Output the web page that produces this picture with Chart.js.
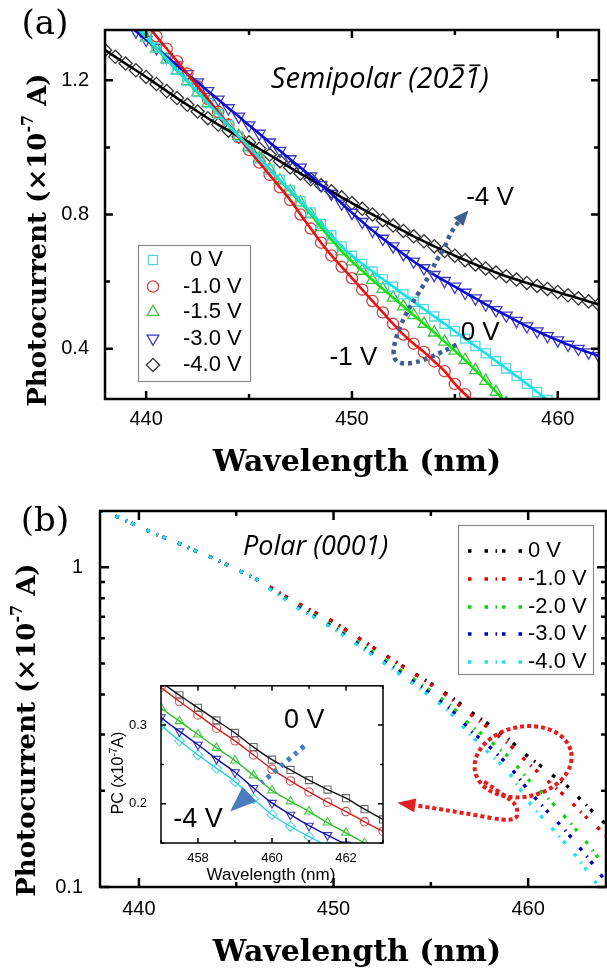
<!DOCTYPE html>
<html>
<head>
<meta charset="utf-8">
<script src="https://cdn.jsdelivr.net/npm/chart.js@4.4.1/dist/chart.umd.min.js"></script>
<style>
html, body { margin: 0; padding: 0; background: #fff; }
body { width: 607px; height: 971px; position: relative; overflow: hidden; }
canvas { position: absolute; }
#ca { left: 0; top: 0; }
#cb { left: 0; top: 490px; }
#ci { left: 101px; top: 672px; }
</style>
</head>
<body>
<canvas id="ca" width="607" height="490"></canvas>
<canvas id="cb" width="607" height="481"></canvas>
<canvas id="ci" width="290" height="215"></canvas>
<script>
// ---- panel (a): semipolar, photocurrent vs wavelength ----
const semiWl = [438, 438.5, 439, 439.5, 440, 440.5, 441, 441.5, 442, 442.5, 443, 443.5, 444, 444.5, 445, 445.5,
  446, 446.5, 447, 447.5, 448, 448.5, 449, 449.5, 450, 450.5, 451, 451.5, 452, 452.5, 453, 453.5, 454, 454.5,
  455, 455.5, 456, 456.5, 457, 457.5, 458, 458.5, 459, 459.5, 460, 460.5, 461, 461.5, 462];
const semiLabels = ['0 V', '-1.0 V', '-1.5 V', '-3.0 V', '-4.0 V'];
const semi0 = [1.46, 1.427, 1.395, 1.362, 1.330, 1.297, 1.264, 1.231, 1.198, 1.165, 1.132, 1.099, 1.066, 1.033, 1.000, 0.967,
  0.934, 0.903, 0.872, 0.840, 0.806, 0.772, 0.738, 0.705, 0.677, 0.653, 0.630, 0.607, 0.585, 0.562, 0.540, 0.518, 0.496, 0.474,
  0.452, 0.430, 0.408, 0.386, 0.363, 0.341, 0.318, 0.295, 0.271, 0.247, 0.224, null, null, null, null];
const semi1 = [null, null, 1.44, 1.405, 1.368, 1.331, 1.294, 1.257, 1.220, 1.182, 1.144, 1.106, 1.068, 1.030, 0.992, 0.955,
  0.918, 0.881, 0.843, 0.800, 0.758, 0.716, 0.678, 0.644, 0.610, 0.576, 0.542, 0.508, 0.474, 0.442, 0.415, 0.390, 0.362, 0.333,
  0.295, 0.264, 0.236, null, null, null, null, null, null, null, null, null, null, null, null];
const semi15 = [null, 1.42, 1.39, 1.359, 1.327, 1.294, 1.262, 1.229, 1.197, 1.164, 1.132, 1.099, 1.066, 1.034, 1.001, 0.968,
  0.935, 0.902, 0.869, 0.836, 0.800, 0.762, 0.725, 0.690, 0.660, 0.632, 0.605, 0.578, 0.552, 0.526, 0.500, 0.474, 0.448, 0.421,
  0.394, 0.366, 0.336, 0.304, 0.271, 0.238, null, null, null, null, null, null, null, null, null];
const semi3 = [1.42, 1.397, 1.372, 1.346, 1.321, 1.296, 1.270, 1.245, 1.219, 1.194, 1.168, 1.143, 1.117, 1.092, 1.066, 1.041,
  1.015, 0.990, 0.965, 0.940, 0.914, 0.888, 0.862, 0.833, 0.805, 0.778, 0.752, 0.728, 0.705, 0.682, 0.660, 0.640, 0.620, 0.602,
  0.585, 0.567, 0.550, 0.532, 0.515, 0.499, 0.483, 0.467, 0.452, 0.438, 0.425, 0.412, 0.400, 0.389, 0.378];
const semi4 = [1.290, 1.270, 1.250, 1.230, 1.210, 1.189, 1.168, 1.147, 1.127, 1.107, 1.087, 1.068, 1.050, 1.032, 1.015, 0.996,
  0.978, 0.959, 0.940, 0.922, 0.905, 0.887, 0.869, 0.851, 0.834, 0.817, 0.800, 0.783, 0.767, 0.751, 0.735, 0.720, 0.705, 0.691,
  0.677, 0.664, 0.651, 0.639, 0.627, 0.616, 0.606, 0.596, 0.587, 0.578, 0.569, 0.559, 0.550, 0.541, 0.532];
const semiXTicks = [440, 450, 460], semiXMinor = [445, 455];
const semiYTicks = [0.4, 0.8, 1.2], semiYMinor = [0.6, 1.0];

// ---- panel (b): polar, log scale ----
const polWl = [438, 438.5, 439, 439.5, 440, 440.5, 441, 441.5, 442, 442.5, 443, 443.5, 444, 444.5, 445, 445.5, 446,
  446.5, 447, 447.5, 448, 448.5, 449, 449.5, 450, 450.5, 451, 451.5, 452, 452.5, 453, 453.5, 454, 454.5, 455, 455.5,
  456, 456.5, 457, 457.5, 458, 458.5, 459, 459.5, 460, 460.5, 461, 461.5, 462, 462.5, 463, 463.5, 464];
const polLabels = ['0 V', '-1.0 V', '-2.0 V', '-3.0 V', '-4.0 V'];
const pol0 = [1.51, 1.47, 1.43, 1.385, 1.34, 1.30, 1.26, 1.225, 1.19, 1.155, 1.12, 1.09, 1.055, 1.02, 0.985, 0.952, 0.92,
  0.884, 0.848, 0.813, 0.78, 0.752, 0.725, 0.70, 0.675, 0.645, 0.617, 0.59, 0.563, 0.54, 0.515, 0.493, 0.472, 0.452, 0.433, 0.413,
  0.395, 0.375, 0.355, 0.338, 0.322, 0.306, 0.29, 0.272, 0.256, 0.243, 0.23, 0.218, 0.207, 0.193, 0.18, 0.168, 0.157];
const pol1 = [1.51, 1.47, 1.43, 1.385, 1.34, 1.30, 1.26, 1.225, 1.19, 1.155, 1.12, 1.09, 1.055, 1.02, 0.985, 0.952, 0.92,
  0.884, 0.848, 0.813, 0.78, 0.752, 0.725, 0.70, 0.675, 0.645, 0.617, 0.59, 0.563, 0.539, 0.514, 0.492, 0.47, 0.45, 0.43, 0.41,
  0.39, 0.368, 0.348, 0.33, 0.313, 0.296, 0.28, 0.262, 0.244, 0.229, 0.215, 0.202, 0.19, 0.177, 0.165, 0.155, 0.145];
const pol2 = [1.51, 1.47, 1.43, 1.385, 1.34, 1.30, 1.26, 1.225, 1.19, 1.155, 1.12, 1.09, 1.055, 1.02, 0.985, 0.952, 0.92,
  0.876, 0.84, 0.803, 0.768, 0.738, 0.71, 0.682, 0.655, 0.626, 0.598, 0.571, 0.545, 0.521, 0.497, 0.474, 0.452, 0.431, 0.41, 0.39,
  0.37, 0.346, 0.322, 0.305, 0.288, 0.271, 0.255, 0.236, 0.217, 0.203, 0.19, 0.176, 0.163, 0.15, 0.138, 0.126, 0.115];
const pol3 = [1.51, 1.47, 1.43, 1.385, 1.34, 1.30, 1.26, 1.225, 1.19, 1.155, 1.12, 1.09, 1.055, 1.02, 0.985, 0.952, 0.92,
  0.874, 0.837, 0.799, 0.762, 0.732, 0.703, 0.675, 0.648, 0.618, 0.59, 0.563, 0.536, 0.512, 0.488, 0.465, 0.443, 0.422, 0.401, 0.38,
  0.36, 0.335, 0.31, 0.292, 0.275, 0.257, 0.24, 0.22, 0.201, 0.186, 0.172, 0.16, 0.148, 0.136, 0.125, 0.114, 0.104];
const pol4 = [1.51, 1.47, 1.43, 1.385, 1.34, 1.30, 1.26, 1.225, 1.19, 1.155, 1.12, 1.09, 1.055, 1.02, 0.985, 0.952, 0.92,
  0.872, 0.834, 0.795, 0.755, 0.725, 0.697, 0.669, 0.642, 0.612, 0.584, 0.557, 0.53, 0.506, 0.482, 0.458, 0.436, 0.414, 0.393, 0.372,
  0.35, 0.325, 0.30, 0.28, 0.262, 0.245, 0.228, 0.206, 0.186, 0.171, 0.158, 0.146, 0.135, 0.124, 0.113, 0.103, 0.095];
const polXTicks = [440, 450, 460], polXMinor = [445, 455];
const polYTicks = [0.1, 1], polYMinor = [0.2, 0.3, 0.4, 0.5, 0.6, 0.7, 0.8, 0.9];
// inset (zoom of the polar data)
const insXTicks = [458, 460, 462], insXMinor = [457, 459, 461, 463];
const insYTicks = [0.2, 0.3], insYMinor = [0.15, 0.25, 0.35];

Chart.defaults.animation = false;
const SANS = 'Liberation Sans';
const SERIF = 'DejaVu Serif';
const pts = (wl, ys) => wl.map((x, i) => ({ x, y: ys[i] }));

// frame with inward ticks on all four sides
function frameTicks(c) {
  return {
    id: 'frameTicks',
    beforeDraw(chart) {
      if (!c.fill) return;
      const a = chart.chartArea, ctx = chart.ctx;
      ctx.save(); ctx.fillStyle = c.fill;
      ctx.fillRect(a.left, a.top, a.right - a.left, a.bottom - a.top);
      ctx.restore();
    },
    afterDatasetsDraw(chart) {
      const { ctx, chartArea: a, scales: { x, y } } = chart;
      ctx.save();
      ctx.strokeStyle = '#000';
      ctx.lineWidth = c.lw;
      ctx.beginPath();
      const seg = (x1, y1, x2, y2) => { ctx.moveTo(x1, y1); ctx.lineTo(x2, y2); };
      const xt = (vals, len) => vals.forEach(v => {
        const p = x.getPixelForValue(v);
        seg(p, a.bottom, p, a.bottom - len); seg(p, a.top, p, a.top + len);
      });
      const yt = (vals, len) => vals.forEach(v => {
        const p = y.getPixelForValue(v);
        seg(a.left, p, a.left + len, p); seg(a.right, p, a.right - len, p);
      });
      xt(c.xMajor, c.major); xt(c.xMinor, c.minor);
      yt(c.yMajor, c.major); yt(c.yMinor, c.minor);
      ctx.stroke();
      ctx.strokeRect(a.left, a.top, a.right - a.left, a.bottom - a.top);
      ctx.restore();
    }
  };
}

// helpers for notes
function smoothPath(ctx, p) {
  ctx.beginPath();
  ctx.moveTo(p[0][0], p[0][1]);
  for (let i = 1; i < p.length - 1; i++) {
    const mx = (p[i][0] + p[i + 1][0]) / 2, my = (p[i][1] + p[i + 1][1]) / 2;
    ctx.quadraticCurveTo(p[i][0], p[i][1], mx, my);
  }
  ctx.lineTo(p[p.length - 1][0], p[p.length - 1][1]);
}
function dotted(ctx, p, color, w, dash) {
  ctx.save();
  ctx.strokeStyle = color; ctx.lineWidth = w; ctx.setLineDash(dash);
  smoothPath(ctx, p); ctx.stroke();
  ctx.restore();
}
function head(ctx, from, tip, len, wid, color) {
  const ang = Math.atan2(tip[1] - from[1], tip[0] - from[0]);
  ctx.save();
  ctx.translate(tip[0], tip[1]); ctx.rotate(ang);
  ctx.fillStyle = color;
  ctx.beginPath(); ctx.moveTo(0, 0); ctx.lineTo(-len, -wid / 2); ctx.lineTo(-len, wid / 2); ctx.closePath();
  ctx.fill();
  ctx.restore();
}
function text(ctx, s, x, y, font, align) {
  ctx.save();
  ctx.font = font; ctx.fillStyle = '#000';
  ctx.textAlign = align || 'center'; ctx.textBaseline = 'middle';
  ctx.fillText(s, x, y);
  ctx.restore();
}
// centred text made of parts [string, font, dy]
function rich(ctx, parts, cx, cy, rot) {
  ctx.save();
  ctx.translate(cx, cy); ctx.rotate(rot || 0);
  ctx.fillStyle = '#000'; ctx.textBaseline = 'middle';
  let w = 0;
  parts.forEach(p => { ctx.font = p[1]; w += ctx.measureText(p[0]).width; });
  let x = -w / 2;
  parts.forEach(p => { ctx.font = p[1]; ctx.fillText(p[0], x, p[2]); x += ctx.measureText(p[0]).width; });
  ctx.restore();
}
function photoTitle(ctx, cx, cy, size) {
  const f = `bold ${size}px "${SERIF}"`, fs = `bold ${Math.round(size * 0.6)}px "${SERIF}"`;
  rich(ctx, [['Photocurrent (\u00d710', f, 0], ['-7', fs, -size * 0.38], [' A)', f, 0]], cx, cy, -Math.PI / 2);
}
function marker(ctx, opt, x, y) {
  ctx.save();
  ctx.strokeStyle = opt.pointBorderColor; ctx.fillStyle = 'rgba(0,0,0,0)';
  ctx.lineWidth = opt.pointBorderWidth;
  Chart.helpers.drawPoint(ctx, {
    pointStyle: opt.pointStyle, radius: opt.pointRadius,
    rotation: opt.pointRotation || 0, borderWidth: opt.pointBorderWidth
  }, x, y);
  ctx.restore();
}

// ---------------- chart (a) ----------------
const semiStyle = [
  { line: '#18e0ec', pt: '#5ad2e2', pointStyle: 'rect', r: 6.4 },
  { line: '#ee1010', pt: '#c84646', pointStyle: 'circle', r: 5.6 },
  { line: '#14e014', pt: '#44c444', pointStyle: 'triangle', r: 6.8 },
  { line: '#0a0ad0', pt: '#3d3dbd', pointStyle: 'triangle', r: 6.8, rot: 180 },
  { line: '#000000', pt: '#333333', pointStyle: 'rectRot', r: 6.6 }
];
const semiData = [semi0, semi1, semi15, semi3, semi4];
const semiSets = [];
semiData.forEach((ys, i) => {
  const s = semiStyle[i];
  semiSets.push({
    label: semiLabels[i], data: pts(semiWl, ys), showLine: false, order: 2,
    pointStyle: s.pointStyle, pointRadius: s.r, pointRotation: s.rot || 0,
    pointBorderColor: s.pt, pointBackgroundColor: 'rgba(0,0,0,0)', pointBorderWidth: 1.3, clip: 0
  });
  semiSets.push({
    label: semiLabels[i] + ' fit', data: pts(semiWl, ys), order: 1, borderColor: s.line, borderWidth: 2.6,
    pointRadius: 0, cubicInterpolationMode: 'monotone', clip: 0
  });
});

const notesA = {
  id: 'notesA',
  afterDraw(chart) {
    const { ctx, scales: { x, y } } = chart;
    const P = (a, b) => [x.getPixelForValue(a), y.getPixelForValue(b)];
    text(ctx, '(a)', 45, 25, `34px "${SERIF}"`);
    photoTitle(ctx, 39, 240, 26);
    text(ctx, 'Wavelength (nm)', 357, 463, `bold 30px "${SERIF}"`);
    // sample label with overlined indices
    const f = 'italic 29px "Open Sans"';
    const t = 'Semipolar (2021)';
    const [tx, ty] = P(446.06, 1.203);
    ctx.save();
    ctx.font = f; ctx.fillStyle = '#000'; ctx.textBaseline = 'middle';
    ctx.fillText(t, tx, ty);
    ctx.strokeStyle = '#000'; ctx.lineWidth = 1.7;
    [13, 14].forEach(k => {
      const x0 = tx + ctx.measureText(t.slice(0, k)).width;
      const w = ctx.measureText(t[k]).width;
      ctx.beginPath(); ctx.moveTo(x0 + 5, ty - 14); ctx.lineTo(x0 + w, ty - 14); ctx.stroke();
    });
    ctx.restore();
    text(ctx, '-4 V', ...P(456.71, 0.851), `26px "${SANS}"`);
    text(ctx, '0 V', ...P(456.23, 0.448), `26px "${SANS}"`);
    text(ctx, '-1 V', ...P(450.07, 0.373), `26px "${SANS}"`);
    const path = [[455.08, 0.412], [453.65, 0.367], [452.55, 0.352], [451.98, 0.367], [452.08, 0.427], [452.55, 0.496],
      [453.03, 0.546], [453.65, 0.606], [454.13, 0.666], [454.46, 0.696], [454.8, 0.746], [455.2, 0.78]].map(p => P(p[0], p[1]));
    dotted(ctx, path, '#3d5f8f', 4.5, [4, 4]);
    head(ctx, P(455.2, 0.78), P(455.66, 0.812), 15, 13, '#3d5f8f');
    // legend
    ctx.save();
    ctx.strokeStyle = '#8a8a8a'; ctx.lineWidth = 1.2;
    ctx.strokeRect(138.5, 245.5, 112, 136);
    ctx.restore();
    const rows = [260, 286.5, 312, 338.5, 365];
    semiLabels.forEach((lab, i) => {
      marker(ctx, semiSets[i * 2], 153, rows[i]);
      text(ctx, lab, i === 0 ? 190 : 183, rows[i], `22px "${SANS}"`, 'left');
    });
  }
};

new Chart(document.getElementById('ca'), {
  type: 'line',
  data: { datasets: semiSets },
  options: {
    responsive: false, devicePixelRatio: 1,
    layout: { padding: { top: 30, right: 1, left: 0, bottom: 0 } },
    plugins: { legend: { display: false }, tooltip: { enabled: false } },
    scales: {
      x: {
        type: 'linear', min: 438, max: 462,
        grid: { display: false }, border: { display: false },
        afterFit: s => { s.height = 91; },
        afterBuildTicks: s => { s.ticks = semiXTicks.map(v => ({ value: v })); },
        ticks: { padding: 0, color: '#000', font: { family: SANS, size: 20 }, autoSkip: false, maxRotation: 0, callback: v => String(v) }
      },
      y: {
        type: 'linear', min: 0.25, max: 1.35,
        grid: { display: false }, border: { display: false },
        afterFit: s => { s.width = 105; },
        afterBuildTicks: s => { s.ticks = semiYTicks.map(v => ({ value: v })); },
        ticks: { padding: 8, color: '#000', font: { family: SANS, size: 20 }, autoSkip: false, callback: v => v.toFixed(1) }
      }
    }
  },
  plugins: [frameTicks({ xMajor: semiXTicks, xMinor: semiXMinor, yMajor: semiYTicks, yMinor: semiYMinor, major: 8, minor: 5, lw: 2.5 }), notesA]
});

// ---------------- chart (b) ----------------
const polColors = ['#000000', '#e00000', '#12d012', '#0000c0', '#22e0f0'];
const polDash = [3.5, 13, 3.5, 7.5, 1.5, 5];
const polData = [pol0, pol1, pol2, pol3, pol4];
const polSets = polData.map((ys, i) => ({
  label: polLabels[i], data: pts(polWl, ys), order: 5 - i, borderColor: polColors[i], borderWidth: 3.4,
  borderDash: polDash, pointRadius: 0, tension: 0.3, clip: 0
}));

const notesB = {
  id: 'notesB',
  afterDraw(chart) {
    const { ctx, scales: { x, y } } = chart;
    const P = (a, b) => [x.getPixelForValue(a), y.getPixelForValue(b)];
    text(ctx, '(b)', 45, 32, `34px "${SERIF}"`);
    photoTitle(ctx, 28, 240, 26);
    text(ctx, 'Wavelength (nm)', 357, 463, `bold 30px "${SERIF}"`);
    text(ctx, 'Polar (0001)', 243, 57, 'italic 27px "Open Sans"', 'left');
    // legend
    ctx.save();
    ctx.strokeStyle = '#8a8a8a'; ctx.lineWidth = 1.2;
    ctx.strokeRect(458.5, 35.5, 135, 149);
    ctx.restore();
    const rows = [61, 89, 117, 144, 172];
    polLabels.forEach((lab, i) => {
      ctx.save();
      ctx.strokeStyle = polColors[i]; ctx.lineWidth = 3.4; ctx.setLineDash(polDash);
      ctx.beginPath(); ctx.moveTo(468, rows[i]); ctx.lineTo(527, rows[i]); ctx.stroke();
      ctx.restore();
      text(ctx, lab, 528, rows[i], `22px "${SANS}"`, 'left');
    });
    // red loop pointing to the inset
    const c = P(459.74, 0.2465);
    ctx.save();
    ctx.strokeStyle = '#e21e1e'; ctx.lineWidth = 4; ctx.setLineDash([4, 3]);
    ctx.beginPath(); ctx.ellipse(c[0], c[1], 49, 35, -0.2, 0, Math.PI * 2); ctx.stroke();
    ctx.restore();
    const tail = [[457.74, 0.2134], [459.0, 0.19], [459.49, 0.177], [459.38, 0.159], [456.8, 0.17], [454.36, 0.1795]].map(p => P(p[0], p[1]));
    dotted(ctx, tail, '#e21e1e', 4, [4, 3]);
    head(ctx, P(454.36, 0.1795), P(453.28, 0.1834), 18, 14, '#e21e1e');
  }
};

new Chart(document.getElementById('cb'), {
  type: 'line',
  data: { datasets: polSets },
  options: {
    responsive: false, devicePixelRatio: 1,
    layout: { padding: { top: 21, right: 1, left: 0, bottom: 0 } },
    plugins: { legend: { display: false }, tooltip: { enabled: false } },
    scales: {
      x: {
        type: 'linear', min: 438, max: 464,
        grid: { display: false }, border: { display: false },
        afterFit: s => { s.height = 84; },
        afterBuildTicks: s => { s.ticks = polXTicks.map(v => ({ value: v })); },
        ticks: { padding: 2, color: '#000', font: { family: SANS, size: 20 }, autoSkip: false, maxRotation: 0, callback: v => String(v) }
      },
      y: {
        type: 'logarithmic', min: 0.1, max: 1.5,
        grid: { display: false }, border: { display: false },
        afterFit: s => { s.width = 100; },
        afterBuildTicks: s => { s.ticks = polYTicks.map(v => ({ value: v })); },
        ticks: { padding: 9, color: '#000', font: { family: SANS, size: 20 }, autoSkip: false, callback: v => String(v) }
      }
    }
  },
  plugins: [frameTicks({ xMajor: polXTicks, xMinor: polXMinor, yMajor: polYTicks, yMinor: polYMinor, major: 9, minor: 5, lw: 2.5 }), notesB]
});

// ---------------- inset ----------------
const insStyle = [
  { line: '#111111', pt: '#6a6a6a', pointStyle: 'rect', r: 5 },
  { line: '#d42020', pt: '#d05050', pointStyle: 'circle', r: 4.2 },
  { line: '#2ec02e', pt: '#44c844', pointStyle: 'triangle', r: 5 },
  { line: '#1010a8', pt: '#3a3ab8', pointStyle: 'triangle', r: 5, rot: 180 },
  { line: '#2ed0e0', pt: '#55d8ea', pointStyle: 'rectRot', r: 5 }
];
const insSets = [];
polData.forEach((ys, i) => {
  const s = insStyle[i];
  insSets.push({
    label: polLabels[i], data: pts(polWl, ys), showLine: false, order: 2,
    pointStyle: s.pointStyle, pointRadius: s.r, pointRotation: s.rot || 0,
    pointBorderColor: s.pt, pointBackgroundColor: 'rgba(0,0,0,0)', pointBorderWidth: 1.1, clip: 0
  });
  insSets.push({
    label: polLabels[i] + ' fit', data: pts(polWl, ys), order: 1, borderColor: s.line, borderWidth: 1.4,
    pointRadius: 0, cubicInterpolationMode: 'monotone', clip: 0
  });
});

const notesI = {
  id: 'notesI',
  afterDraw(chart) {
    const { ctx, scales: { x, y } } = chart;
    const P = (a, b) => [x.getPixelForValue(a), y.getPixelForValue(b)];
    text(ctx, 'Wavelength (nm)', 170, 203, `17px "${SANS}"`);
    const f = `16px "${SANS}"`, fs = `10px "${SANS}"`;
    rich(ctx, [['PC (x10', f, 0], ['-7', fs, -5], ['A)', f, 0]], 18, 101, -Math.PI / 2);
    text(ctx, '0 V', ...P(460.87, 0.306), `27px "${SANS}"`);
    text(ctx, '-4 V', ...P(458.0, 0.18), `27px "${SANS}"`);
    const path = [[460.87, 0.2734], [460.3, 0.25], [459.72, 0.2266]].map(p => P(p[0], p[1]));
    dotted(ctx, path, '#4a7cc0', 5, [4, 5]);
    head(ctx, P(459.72, 0.2266), P(458.87, 0.19), 26, 20, '#4a7cc0');
  }
};

new Chart(document.getElementById('ci'), {
  type: 'line',
  data: { datasets: insSets },
  options: {
    responsive: false, devicePixelRatio: 1,
    layout: { padding: { top: 8, right: 8, left: 0, bottom: 0 } },
    plugins: { legend: { display: false }, tooltip: { enabled: false } },
    scales: {
      x: {
        type: 'linear', min: 457, max: 463,
        grid: { display: false }, border: { display: false },
        afterFit: s => { s.height = 44; },
        afterBuildTicks: s => { s.ticks = insXTicks.map(v => ({ value: v })); },
        ticks: { padding: 0, color: '#000', font: { family: SANS, size: 13 }, autoSkip: false, maxRotation: 0, callback: v => String(v) }
      },
      y: {
        type: 'linear', min: 0.15, max: 0.35,
        grid: { display: false }, border: { display: false },
        afterFit: s => { s.width = 60; },
        afterBuildTicks: s => { s.ticks = insYTicks.map(v => ({ value: v })); },
        ticks: { padding: 6, color: '#000', font: { family: SANS, size: 13 }, autoSkip: false, callback: v => v.toFixed(1) }
      }
    }
  },
  plugins: [frameTicks({ fill: '#fff', xMajor: insXTicks, xMinor: insXMinor, yMajor: insYTicks, yMinor: insYMinor, major: 5, minor: 3, lw: 1.5 }), notesI]
});
</script>
</body>
</html>
